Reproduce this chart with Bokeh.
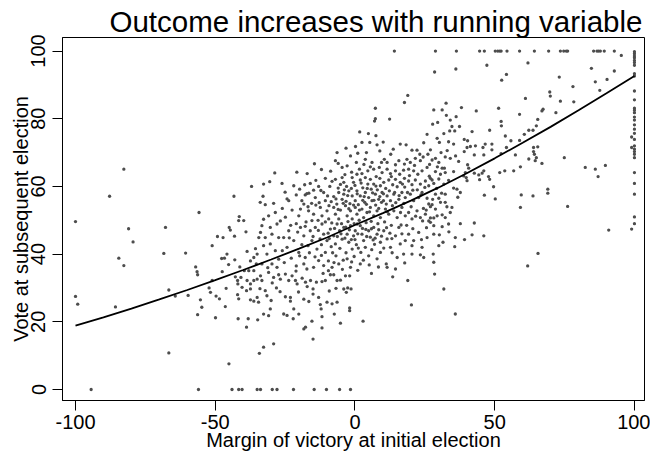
from bokeh.plotting import figure
from bokeh.models import Range1d, FixedTicker, Title
from bokeh.embed import file_html
from bokeh.resources import INLINE

# ---------------- data ----------------
title_text = "Outcome increases with running variable"
x_label = "Margin of victory at initial election"
y_label = "Vote at subsequent election"
x_ticks = [-100, -50, 0, 50, 100]
x_tick_labels = ["-100", "-50", "0", "50", "100"]
y_ticks = [0, 20, 40, 60, 80, 100]
y_tick_labels = ["0", "20", "40", "60", "80", "100"]

# left tail and left part of the cloud (margin < -27)
left_points = [
    (-100, 49.6), (-100, 27.5), (-99.2, 25.2), (-87.8, 57.1), (-85.7, 24.4), (-84.5, 38.8),
    (-82.7, 65.1), (-82.7, 36.6), (-81, 47.5), (-79.4, 43.6), (-68.4, 40.2), (-67.8, 47.9),
    (-66.6, 29.4), (-66.6, 10.8), (-64.3, 27.6), (-60.6, 40.3), (-59.7, 27.8), (-57, 36.2),
    (-56.5, 34.8), (-56.3, 33.9), (-56.3, 22.1), (-55.8, 52.3), (-55.3, 26.5), (-54.8, 24.3),
    (-52.2, 30), (-51.7, 28.7), (-51.1, 42.5), (-51.1, 32.2), (-49.9, 21.2), (-49.7, 27.6),
    (-49.2, 45.2), (-48.5, 26.8), (-47.7, 38.7), (-47.5, 34.8), (-47.2, 44.9), (-46.7, 38.8),
    (-46.4, 24.5), (-46.1, 29.9), (-45.8, 40), (-45.2, 36.9), (-45.1, 7.6), (-45, 47.9),
    (-44.6, 47.1), (-43.3, 57.1), (-43.1, 45.3), (-43, 38.3), (-42.8, 33.3), (-42, 32.2),
    (-42, 28), (-41.9, 31.2), (-41.8, 20.9), (-41.6, 49.9), (-41.6, 26.8), (-41.4, 51.1),
    (-41.2, 36.2), (-40.8, 33.1), (-40.4, 30.2), (-39.8, 49.9), (-39.6, 35.1), (-39, 46.6),
    (-38.8, 29.2), (-38.8, 18.4), (-38.6, 40.8), (-38.6, 32.2), (-38.2, 20.9), (-38, 35.1),
    (-37.4, 38), (-37.4, 31.2), (-37.4, 29.7), (-37.4, 26.5), (-37, 60), (-36.2, 39),
    (-36.2, 35.1), (-36.2, 32.2), (-36.2, 26.1), (-35.6, 41.6), (-35.3, 37.1), (-35, 40),
    (-35, 32.6), (-35, 27.2), (-34.8, 20.6), (-34.5, 25.8), (-34.4, 44.9), (-34.2, 10.7),
    (-33.9, 55.3), (-33.8, 46.4), (-33.8, 33.6), (-33.3, 48.4), (-33.3, 37.1), (-33.3, 32.2),
    (-32.9, 57.1), (-32.7, 60.7), (-32.7, 50.3), (-32.7, 42.5), (-32.7, 22.3), (-32.7, 12.5),
    (-32.1, 54.6), (-32.1, 44.9), (-32.1, 29.2), (-31.5, 40), (-31.5, 27.7), (-30.9, 51.3),
    (-30.9, 34.6), (-30.9, 21.8), (-30.5, 61.4), (-30.3, 47.9), (-30.3, 43), (-30.3, 23.8),
    (-29.7, 45.9), (-29.7, 37.1), (-29.1, 55), (-29.1, 33.1), (-29.1, 13.5), (-28.7, 64),
    (-28.5, 52.3), (-28.5, 41), (-28.1, 30), (-27.9, 48.9), (-27.9, 36.1), (-27.3, 44.9),
    (-27.3, 38.5), (-27.3, 33.9), (-29.6, 31.5), (-31.2, 36), (-34, 29.8), (-30, 26.3),
]

# central cloud, upper band
core_top = [
    (1.7, 76.1), (7.5, 75), (2.5, 73), (5.3, 73), (-3.2, 71.3), (7.9, 72.3), (16.2, 72.5),
    (8.9, 70.5), (-6.4, 70), (1, 69.8), (4.1, 70), (20.4, 70.7), (22.2, 70.7), (23.2, 69.5),
    (25.8, 75.4), (26.1, 69.5), (-7, 67.6), (0.5, 67.1), (3.7, 68), (6.1, 67.1), (10.5, 68),
    (11.5, 67.1), (15.7, 67.6), (14.5, 66.4), (18.6, 68), (19.8, 67.1), (17.7, 66.6),
    (21.6, 68.3), (23.4, 67.6), (24.4, 68.7), (-17.1, 63.8), (-4.6, 65.6), (-2.8, 66.1),
    (1.6, 65.1), (2.5, 63.8), (0.7, 63.6), (4.6, 64.6), (5.5, 65.8), (6.7, 65.1), (8.7, 65.6),
    (9.7, 64.1), (11.5, 65.1), (12.7, 63.8), (14.5, 64.6), (16, 63.6), (17.4, 64.8),
    (19.2, 65.1), (21, 64.6), (22.5, 63.6), (24, 64.6), (25.8, 65.6), (-12, 65), (-8.7, 64.5),
    (-1.2, 64.2), (3.2, 66.5), (7.6, 62.9), (13, 62.9), (19.5, 63.2), (-6, 66.8), (9.5, 67.1),
    (12.8, 69.5), (-1.6, 69), (18.9, 86.9), (17.7, 84.8), (7.3, 83.1), (7.3, 80), (7, 79.3),
    (12.4, 79.9), (-20.8, 64.2), (-14.5, 66.7), (-3.6, 63.5), (0.2, 71.8), (4.8, 75.6),
    (10.1, 73.1), (13.7, 71), (18.3, 72.3), (21.3, 66.2), (24.6, 72.9), (26.6, 63),
]

# central cloud, middle band
core_mid = [
    (-26.1, 60.9), (-21.9, 60.2), (-16, 60.9), (-10.6, 62.4), (-7, 62.1), (-4.6, 62.6),
    (-4, 61.2), (-1, 62.6), (-0.5, 61.2), (1.9, 61.9), (3.7, 62.6), (5.5, 62.1), (4.6, 60.7),
    (6.7, 60.7), (8.9, 62.4), (10.3, 61.2), (12.1, 61.9), (9.1, 60.2), (14.5, 62.1),
    (16.2, 61.2), (17.7, 62.4), (15.1, 59.9), (19.2, 61.6), (20.4, 60.5), (21.6, 61.9),
    (23.4, 60.7), (25.2, 61.6), (26.4, 60.2), (-24.3, 56.3), (-23.7, 55.8), (-17.8, 57.5),
    (-17.2, 57.9), (-14.2, 56.7), (-11.2, 58.2), (-10.6, 55.8), (-7.6, 57), (-5.8, 58.2),
    (-4.6, 56.2), (-4, 57.7), (-2.2, 58.7), (-1, 57.2), (0.1, 55.8), (0.7, 58.7), (1.9, 57.2),
    (3.7, 58.2), (4.9, 56.7), (6.1, 55.8), (7.3, 57.7), (8.5, 56.2), (9.7, 58.2), (11.5, 57.2),
    (12.7, 55.8), (13.9, 57.7), (15.7, 56.2), (16.8, 58.2), (18, 56.7), (19.8, 57.7),
    (21, 55.8), (22.8, 56.7), (24, 58.2), (25.8, 56.5), (26.4, 54.8), (-9, 60), (-6, 59.5),
    (-3, 60), (0, 60.3), (2.8, 59.6), (5.8, 59.2), (8, 59), (11, 59.4), (13.5, 60.5),
    (-13, 60), (-8.5, 55.5), (-6.5, 54.8), (-3.2, 55.6), (-1.8, 54.9), (1.2, 54.6),
    (2.8, 55.9), (4.1, 54.7), (7.4, 54.5), (9.5, 55.3), (11.2, 54.8), (13.4, 54.3),
    (-12.8, 55.2), (-15.5, 55), (-21, 57.5), (-25, 58.3), (-19.8, 59.2), (-14.8, 58.9),
    (17.8, 59.8), (22.3, 59), (25, 59.7),
]

# extra points filling the densest part of the cloud
core_dense = [
    (-18, 60.5), (-16.5, 58), (-14, 61.8), (-12.2, 58.8), (-9.8, 57.2), (-8.2, 61.5),
    (-6.8, 56.3), (-5.2, 60.6), (-3.8, 59), (-2.6, 57.3), (-1.3, 59.4), (0.8, 57.8),
    (2.2, 61), (3.3, 57), (4.4, 59.4), (6.3, 58.1), (7.5, 60.1), (8.9, 57), (10.2, 57.8),
    (12.3, 58.7), (14.2, 58.2), (15.8, 57.3), (17, 60.7), (18.8, 58.2), (20.7, 58.9),
    (23.6, 57.5), (-19, 55.8), (-16.8, 54), (-14, 54.5), (-9.3, 54.3), (-6, 53.2),
    (-4.2, 55), (-2.2, 53.4), (-0.5, 54.5), (1.6, 53), (3.5, 55.3), (5.2, 52.5), (6.8, 55.9),
    (8.5, 53.5), (10.2, 55.8), (11.6, 52.5), (14.6, 55.2), (16.3, 52.3), (17.5, 55),
    (20.1, 54), (21.7, 51.2), (24.5, 53.5), (-20.5, 46.5), (-17.8, 48.2), (-15, 45.2),
    (-13.1, 47), (-10.6, 49.5), (-9.2, 44.6), (-7.3, 47.6), (-5, 46), (-3.3, 48), (-2, 47.2),
    (0, 44.3), (0.8, 48.9), (2.7, 47.6), (4.2, 45.2), (5.9, 47.5), (7.2, 44.7), (9.5, 45.3),
    (11.3, 47.8), (13.2, 44.6), (16.8, 46), (18, 44), (20.4, 42.5), (23.8, 44.3),
    (-21, 36.5), (-19.8, 39.5), (-16.3, 40.4), (-12, 39.6), (-11.4, 34.3), (-8, 40.4),
    (-7.5, 37.5), (-4.2, 38.2), (-4.5, 35.5), (-1.2, 37.7), (1, 35.2), (1.2, 41.8),
    (5.1, 36.8), (7, 42.9), (8.4, 36.2), (13.3, 40.4), (17.8, 37.4), (-23.5, 44.8),
    (-26, 41), (-25.3, 37.5), (-21.1, 35), (-26.8, 28.9), (-20.2, 28.8), (-16.5, 26),
    (-9.2, 29.1), (-6.8, 29.9), (-9.5, 35.1),
]

# central cloud, lower band
core_low = [
    (-24.9, 50.9), (-26.7, 49.8), (-19.5, 53.3), (-18.3, 54.8), (-20.1, 51.3), (-16.6, 52.8),
    (-15.4, 49.9), (-14.8, 51.8), (-12.4, 53.8), (-11.8, 51.3), (-10, 52.8), (-9.4, 50.4),
    (-7.6, 53.8), (-7, 51.8), (-5.8, 50.4), (-5.2, 53), (-3.4, 54.3), (-2.8, 51.3),
    (-1.6, 52.8), (-1, 50.4), (0.1, 53.8), (0.7, 51.8), (2.5, 53.3), (3.1, 50.8), (4.3, 52.3),
    (5.5, 53.8), (6.7, 51.3), (7.9, 52.8), (9.1, 50.8), (10.9, 53.3), (12.1, 51.8),
    (13.9, 52.8), (15.1, 50.8), (16.8, 53.8), (18, 51.3), (19.2, 52.3), (20.4, 50.4),
    (22.2, 52.8), (23.4, 50.8), (25.2, 51.8), (26.4, 49.8), (-22.5, 53), (-26, 53.5),
    (-13.2, 50), (-8.3, 49.2), (-4.8, 49), (-2.5, 49.6), (-0.3, 49), (1.5, 50), (4, 49.3),
    (5.8, 49.7), (8.2, 49), (10.6, 49.5), (13, 48.5), (16.5, 48.6), (-17.5, 49.5), (-21, 49),
    (-23, 48.5), (18.5, 48.5), (20.7, 47.5), (-25.5, 44.9), (-23.7, 46.9), (-19.5, 47.9),
    (-18.3, 45.4), (-16, 46.9), (-14.2, 47.9), (-11.8, 48.9), (-11.2, 45.9), (-8.8, 47.4),
    (-7.6, 45.4), (-6.4, 48.9), (-5.5, 46.9), (-4, 47.9), (-2.8, 45.9), (-1.6, 48.4),
    (-0.5, 45.4), (0.1, 46.9), (1.9, 48.4), (2.5, 45.9), (4.9, 46.9), (5.5, 45), (6.7, 47.9),
    (7.9, 45.9), (10.3, 46.9), (14.5, 45.4), (15.7, 47.9), (19.2, 45.9), (22.8, 46.4),
    (25.8, 44.9), (-9.6, 46.2), (-6.3, 45.2), (1, 46), (3.9, 47.3), (8.5, 47.2), (12.5, 46.2),
]

# central cloud, bottom band
core_bottom = [
    (-21.9, 44), (-24.3, 42), (-20.1, 40.5), (-17.8, 39), (-15.4, 44), (-13.6, 41.5),
    (-10, 44), (-10.6, 40.5), (-7, 43), (-4.6, 44.4), (-2.2, 43.5), (-1, 41.5), (3.1, 44),
    (3.7, 42), (9.1, 43.5), (11.5, 44.5), (12.7, 42), (16.2, 43), (17.4, 40), (21, 44),
    (24, 42), (24.6, 39), (-18.3, 37.1), (-17.2, 35.6), (-14.8, 36.1), (-13, 38.1),
    (-11.2, 36.6), (-8.2, 36.1), (-5.8, 37.1), (-2.8, 38.6), (-1.6, 36.1), (1.9, 37.1),
    (4.9, 39.5), (7.9, 38.6), (9.1, 40.5), (11.5, 36.1), (15.1, 39), (14.5, 35.6),
    (11.2, 37.1), (20.4, 40), (23.4, 39.8), (-3.6, 44.7), (-1.3, 44.3), (6.5, 44.2),
    (-12.5, 44.5), (-16.8, 42.5), (-8.5, 42.2), (-5.4, 41.7), (-3.2, 40.4), (0.5, 42.8),
    (2.1, 40.5), (6, 41.3), (10.3, 41.8), (-19, 42.8), (-22.8, 38.8), (-14.3, 39.2),
    (-6.8, 39.5), (-0.3, 39.3), (3, 38.2), (-9.5, 38), (-12, 42.8),
]

# below the cloud
core_under = [
    (-26.7, 32.6), (-24.9, 34.1), (-23.7, 32.2), (-22.5, 33.6), (-21.3, 32.2), (-20.7, 31.2),
    (-18.9, 32.9), (-17.7, 31.7), (-17.1, 30.4), (-15.9, 32.2), (-15, 29.7), (-13.8, 31.7),
    (-11.8, 31.9), (-10.6, 32.2), (-8.8, 33.9), (-7.6, 33.9), (-6.4, 32.2), (-5.2, 32.3),
    (-3.4, 33.6), (-1.9, 33.6), (-4, 29.7), (-2.6, 30), (-1.4, 29.7), (-3.1, 28.7),
    (-24.9, 27.4), (-23.1, 27.2), (-23.1, 26.1), (-25.5, 22.3), (-24.3, 21.9), (-21.9, 23.8),
    (-20.1, 22.3), (-22.1, 20.9), (-18.3, 26.7), (-15, 28.2), (-13, 27.2), (-12.4, 25.1),
    (-10, 25.8), (-12.1, 23.8), (-11.8, 21.5), (-8.2, 25.3), (-6.4, 25.8), (-5.2, 19.6),
    (-1.9, 24.1), (-1.9, 23.3), (-7.4, 22.3), (-17.7, 18.4), (-18.3, 17.9), (-15.4, 20.2),
    (-11.8, 18.2), (-15, 14.9), (2.9, 20.2), (5.9, 34.3), (13.5, 33.3), (18.9, 32.2),
    (20.2, 25),
]

# right of the cloud, margin 24..38
right_near = [
    (32.6, 84.6), (28.2, 82.6), (31.2, 82.6), (32.7, 81), (34.1, 79.6), (36.2, 80.6),
    (27.8, 78.4), (29.6, 78.9), (34.7, 77.7), (35.7, 76.4), (33.9, 76.4), (37.4, 77.7),
    (31.8, 75.6), (29.4, 74.2), (30.2, 73), (33.5, 73.2), (35.3, 72.5), (27, 70.8),
    (28.8, 68.3), (27.6, 67.8), (30.8, 70), (32.3, 68.7), (34.1, 68.3), (37.1, 67.4),
    (30, 67.1), (31.2, 65.4), (32, 65.4), (28.8, 64.4), (30.6, 63.6), (32.3, 64.1),
    (35.3, 64.4), (27, 62.4), (27.6, 61.9), (28.2, 60.9), (30, 62.2), (31.8, 60.7),
    (35.3, 59.5), (36.5, 59.2), (32.3, 57.7), (28.8, 57.7), (27.6, 54.6), (30, 56.5),
    (30.6, 55.3), (32.3, 55.3), (32.9, 54), (34.7, 53.8), (34.1, 52.3), (28.8, 53.3),
    (27, 54), (29.4, 51.3), (28.2, 50.7), (27, 50.7), (32.3, 50.8), (31.2, 51.6), (27, 49.4),
    (28.2, 48.4), (31.2, 48.1), (33.5, 48.9), (37.7, 49), (28.2, 45.9), (28, 40), (30, 42.5),
    (31.5, 43.5), (28.2, 37.6), (28.5, 34.1), (31.8, 29.7), (35.9, 22.3), (35.7, 42.2),
    (35.9, 44.9), (28.5, 93.8), (36.1, 94.7), (25.5, 53), (27.8, 56.2), (29.2, 59.4),
    (31, 58), (33.5, 61.8), (29.5, 65.8), (26.7, 66.5), (33, 70.6), (36, 69), (36.8, 56.8),
    (33.6, 46.6), (30.2, 45.7), (25.6, 47.8), (24.2, 49.8),
]

# right side, margin > 38
right_far = [
    (47.2, 95.8), (61.9, 96.5), (54.2, 93.1), (52.5, 91.4), (73.1, 92.3), (84.6, 94.9),
    (92.8, 94.1), (90.2, 91.6), (86, 90.9), (87.6, 88.4), (78, 89.5), (69.7, 87.9),
    (69.9, 86.7), (61, 86), (73.5, 85.2), (78.3, 85), (43.4, 82.3), (51.4, 83.1), (58.9, 81.3),
    (67.3, 82.8), (66.9, 82.3), (71.9, 81.8), (65.4, 79.8), (52.3, 79.2), (52.4, 77.9),
    (62.2, 76.6), (63.7, 76.6), (64.9, 77.9), (48.2, 76.6), (41.9, 76.2), (39.1, 73.9),
    (40.3, 73.5), (53.8, 74.9), (55.8, 73.5), (58.9, 73.6), (60.6, 75.4), (49, 72.5),
    (46.6, 72.5), (43.1, 72), (41.3, 71.8), (40.1, 71.5), (39.1, 70.3), (45.8, 71.5),
    (54.2, 71.5), (49, 70.8), (42.7, 69.3), (46.1, 69.3), (52.3, 69.7), (57.4, 69.3),
    (63.9, 71.5), (65.4, 71.7), (63.9, 70.3), (64.2, 69.5), (64.9, 68.5), (62.2, 68.1),
    (66.9, 66.8), (64.5, 67.6), (74.9, 68.5), (82.4, 65.6), (86, 65.1), (89.6, 66.2),
    (87, 62.9), (59.2, 65.8), (56.8, 64.6), (53.6, 64.6), (51.8, 64.1), (40.3, 66.4),
    (40.7, 65.4), (39.5, 64.1), (42.7, 63.9), (44.3, 63.4), (46.1, 64.6), (45.5, 63.9),
    (47.8, 62.9), (48.2, 62.1), (38.9, 63.1), (39.8, 62.6), (40.1, 61.7), (44.6, 62),
    (49.6, 59.9), (46.3, 57.4), (50.2, 56.3), (59.5, 57.5), (63.7, 57.2), (69, 59.2),
    (69, 58), (37.7, 58.2), (38.1, 83.3), (59.2, 53.8), (76.1, 54.1), (90.8, 47.1),
    (42.7, 49.2), (41.9, 45.7), (46.1, 45.4), (39.2, 44.3), (65.5, 40.2), (61.8, 36.5),
    (95.3, 98.7), (99, 74.6), (99, 71.5), (99, 47.4),
]

# vote = 100 row
ceiling_x = [14.1, 28.8, 36.3, 44.6, 46.3, 50.2, 51.1, 51.8, 52.3, 54.4, 58.9, 64.2,
             69.3, 73.5, 74.7, 75.6, 76.1, 85.4, 86.6, 87.2, 87.8, 89.2, 92.8]
# vote = 0 row
floor_x = [-94.4, -56, -44, -41.6, -40.4, -35, -33.8, -29.6, -27.9, -22, -14.6, -10.2,
           -5.5, -1.6]
# margin = 100 column
column_y = [99.8, 99.2, 98.5, 98, 97.2, 96.6, 95.8, 93.3, 92.6, 88.2, 85.6, 83.1, 82.5,
            81.8, 80.5, 79.6, 78.2, 76.9, 75.7, 73.9, 72, 71, 70.3, 69.5, 68.5, 64.1,
            60.9, 57.7, 51, 49]

# fitted curve
fit_x = [-100, -90, -80, -70, -60, -50, -40, -30, -20, -10, 0, 10, 20, 30, 40, 50, 60,
         70, 80, 90, 100]
fit_y = [18.9, 21.3, 23.9, 26.6, 29.4, 32.3, 35.3, 38.4, 41.6, 44.9, 48.6, 52.1, 55.8,
         59.7, 63.9, 68.3, 72.9, 77.6, 82.5, 87.5, 92.6]

# ---------------- assemble ----------------
pts = (left_points + core_top + core_mid + core_dense + core_low + core_bottom
       + core_under + right_near + right_far)
xs = [a for a, b in pts] + ceiling_x + floor_x + [100] * len(column_y)
ys = [b for a, b in pts] + [100] * len(ceiling_x) + [0] * len(floor_x) + column_y

FONT = "Liberation Sans"

p = figure(width=650, height=456,
           x_range=Range1d(-104.65, 103.6), y_range=Range1d(-3.25, 104.0),
           output_backend="svg", toolbar_location=None,
           min_border_left=62, min_border_right=6, min_border_top=37, min_border_bottom=56)

p.scatter(x=xs, y=ys, size=3.3, marker="circle", fill_color="#4d4d4d", line_color=None)
p.line(x=fit_x, y=fit_y, line_color="black", line_width=1.8)

p.xgrid.visible = False
p.ygrid.visible = False
p.outline_line_color = "black"
p.outline_line_width = 1
p.background_fill_color = "white"
p.border_fill_color = "white"

for ax in (p.xaxis[0], p.yaxis[0]):
    ax.axis_line_color = "black"
    ax.major_tick_line_color = "black"
    ax.minor_tick_line_color = None
    ax.major_tick_out = 10
    ax.major_tick_in = 0
    ax.major_label_text_font = FONT
    ax.major_label_text_font_size = "20px"
    ax.major_label_text_color = "black"
    ax.axis_label_text_font = FONT
    ax.axis_label_text_font_size = "20px"
    ax.axis_label_text_font_style = "normal"
    ax.axis_label_text_color = "black"

p.xaxis.major_label_standoff = 4
p.xaxis.axis_label_standoff = -3
p.yaxis.major_label_standoff = 7
p.yaxis.axis_label_standoff = -3

p.xaxis.ticker = FixedTicker(ticks=x_ticks)
p.yaxis.ticker = FixedTicker(ticks=y_ticks)
p.xaxis.major_label_overrides = dict(zip(x_ticks, x_tick_labels))
p.yaxis.major_label_overrides = dict(zip(y_ticks, y_tick_labels))
p.yaxis.major_label_orientation = "vertical"
p.xaxis.axis_label = x_label
p.yaxis.axis_label = y_label

p.title = Title(text=title_text, text_font=FONT, text_font_size="29.5px",
                text_font_style="normal", text_color="black", align="left",
                offset=47, standoff=0)

open("out.html", "w").write(file_html(p, INLINE))
